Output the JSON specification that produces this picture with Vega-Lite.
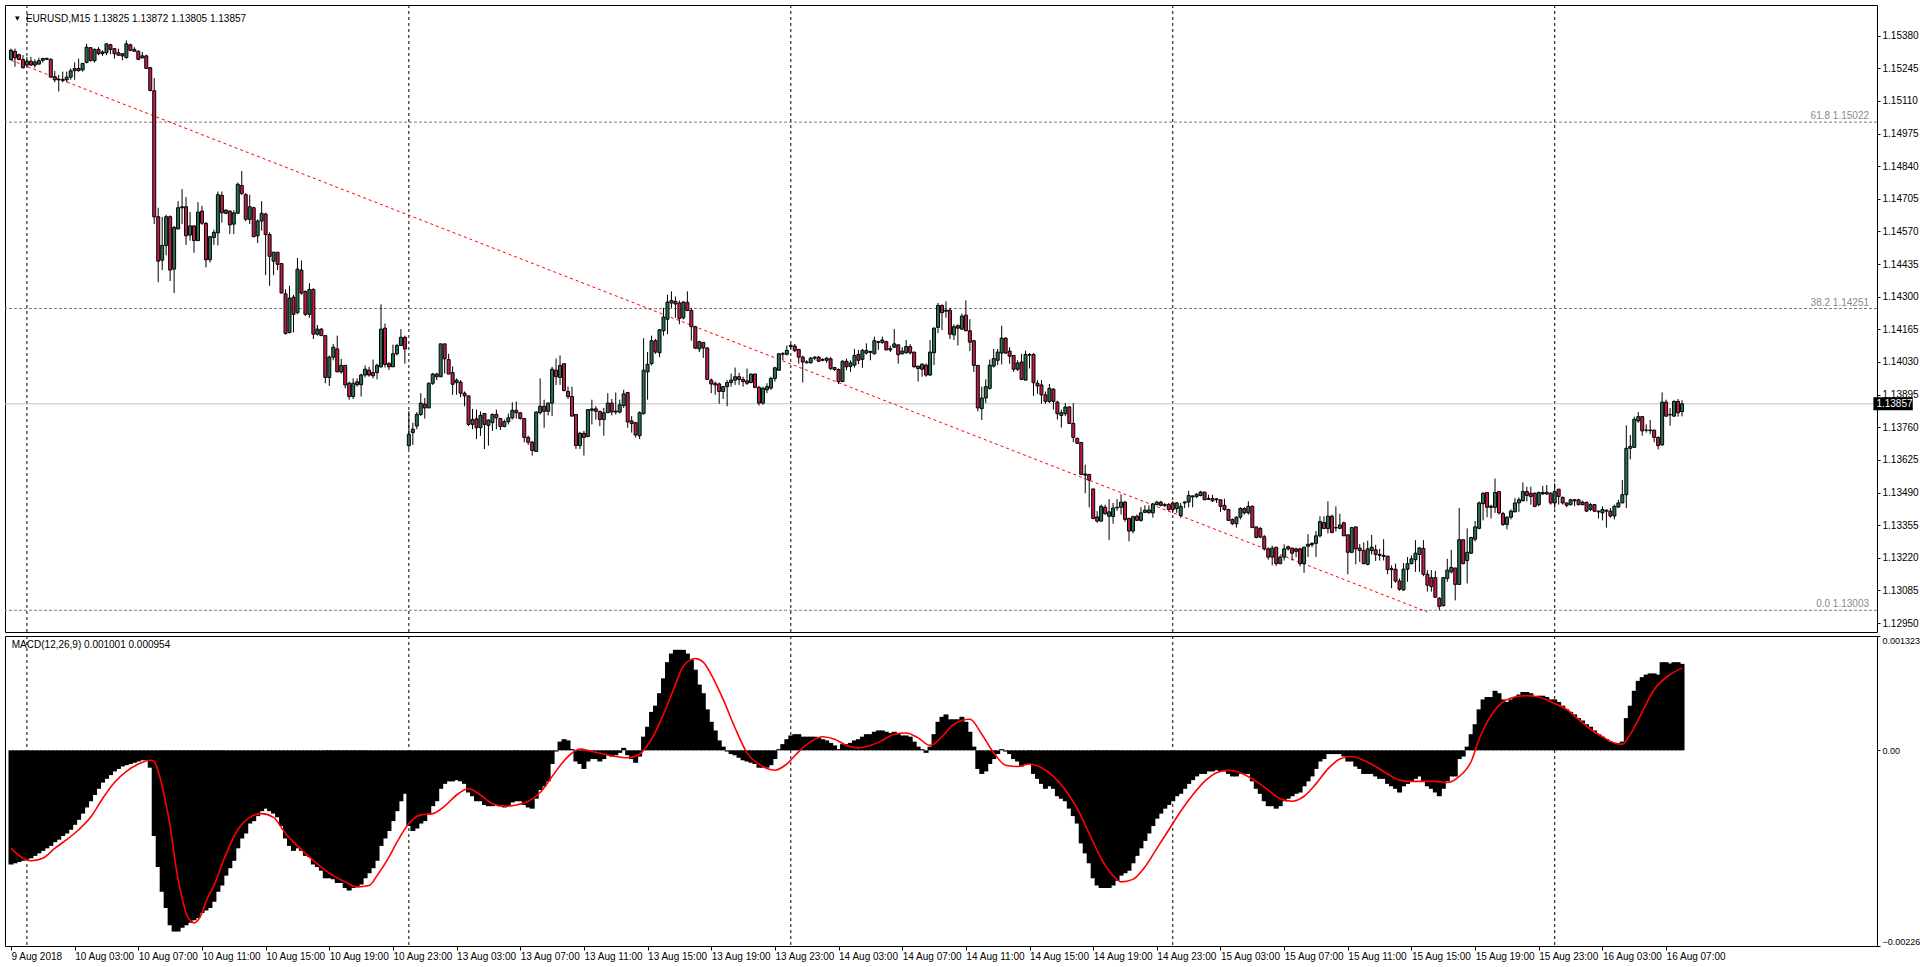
{
"$schema": "https://vega.github.io/schema/vega-lite/v6.json",
"background": "white",
"padding": {"left": 4, "top": 4, "right": 0, "bottom": 0},
"spacing": 2,
"config": {"view": {"stroke": "black", "strokeWidth": 1}, "font": "Liberation Sans",
 "axis": {"labelFont": "Liberation Sans", "labelFontSize": 10, "labelColor": "black", "tickColor": "black", "domain": false, "grid": false, "labelOverlap": false}},
"datasets": {
"days": [{"i":4},{"i":100},{"i":196},{"i":292},{"i":388}],
"fib": [{"p":1.15022,"label":"61.8 1.15022"},{"p":1.14251,"label":"38.2 1.14251"},{"p":1.13003,"label":"0.0 1.13003"}],
"bid": [{"p":1.13857,"label":"1.13857"}],
"trend": [{"i":0,"p":1.15278},{"i":356,"p":1.12996}],
"sig": [{"i":0,"s":-0.001134},{"i":5,"s":-0.001278},{"i":8,"s":-0.001249},{"i":11,"s":-0.001134},{"i":14,"s":-0.001034},{"i":17,"s":-0.000919},{"i":20,"s":-0.000775},{"i":23,"s":-0.00056},{"i":26,"s":-0.000373},{"i":29,"s":-0.000244},{"i":32,"s":-0.000158},{"i":35,"s":-0.000115},{"i":36,"s":-0.000129},{"i":37,"s":-0.000244},{"i":38,"s":-0.000416},{"i":39,"s":-0.000632},{"i":40,"s":-0.000876},{"i":41,"s":-0.001206},{"i":42,"s":-0.001493},{"i":43,"s":-0.001709},{"i":44,"s":-0.001881},{"i":45,"s":-0.001967},{"i":46,"s":-0.001996},{"i":47,"s":-0.001967},{"i":48,"s":-0.001881},{"i":49,"s":-0.001752},{"i":51,"s":-0.001565},{"i":54,"s":-0.001206},{"i":57,"s":-0.000919},{"i":60,"s":-0.000775},{"i":63,"s":-0.000732},{"i":66,"s":-0.000775},{"i":69,"s":-0.000962},{"i":72,"s":-0.001106},{"i":75,"s":-0.001235},{"i":78,"s":-0.00135},{"i":81,"s":-0.00145},{"i":84,"s":-0.001522},{"i":87,"s":-0.00158},{"i":90,"s":-0.001565},{"i":92,"s":-0.00145},{"i":95,"s":-0.001235},{"i":97,"s":-0.001063},{"i":100,"s":-0.000847},{"i":103,"s":-0.000747},{"i":106,"s":-0.000732},{"i":109,"s":-0.000646},{"i":112,"s":-0.000517},{"i":115,"s":-0.000445},{"i":118,"s":-0.000517},{"i":121,"s":-0.000617},{"i":124,"s":-0.000646},{"i":127,"s":-0.000632},{"i":130,"s":-0.000589},{"i":133,"s":-0.000488},{"i":136,"s":-0.000302},{"i":140,"s":-0.000072},{"i":143,"s":0.000014},{"i":146,"s":-0.000014},{"i":149,"s":-0.000043},{"i":152,"s":-0.000072},{"i":155,"s":-0.000086},{"i":158,"s":-0.000043},{"i":161,"s":0.000129},{"i":164,"s":0.000416},{"i":167,"s":0.000761},{"i":169,"s":0.000976},{"i":172,"s":0.001063},{"i":174,"s":0.00102},{"i":176,"s":0.000876},{"i":179,"s":0.000589},{"i":182,"s":0.000258},{"i":185,"s":-0.000029},{"i":189,"s":-0.000187},{"i":192,"s":-0.00023},{"i":195,"s":-0.000158},{"i":198,"s":-0.000014},{"i":201,"s":0.000101},{"i":204,"s":0.000158},{"i":207,"s":0.000129},{"i":210,"s":0.000057},{"i":213,"s":0.000029},{"i":216,"s":0.000057},{"i":219,"s":0.000115},{"i":222,"s":0.000187},{"i":225,"s":0.000201},{"i":228,"s":0.000144},{"i":231,"s":0.000057},{"i":234,"s":0.000158},{"i":237,"s":0.000302},{"i":241,"s":0.000359},{"i":244,"s":0.000187},{"i":247,"s":-0.000029},{"i":250,"s":-0.000172},{"i":253,"s":-0.000187},{"i":256,"s":-0.000158},{"i":259,"s":-0.000201},{"i":262,"s":-0.000302},{"i":265,"s":-0.00046},{"i":268,"s":-0.000675},{"i":271,"s":-0.000962},{"i":274,"s":-0.001249},{"i":277,"s":-0.00145},{"i":279,"s":-0.001522},{"i":282,"s":-0.001493},{"i":285,"s":-0.00135},{"i":288,"s":-0.001134},{"i":291,"s":-0.000919},{"i":294,"s":-0.000704},{"i":297,"s":-0.000517},{"i":300,"s":-0.000359},{"i":303,"s":-0.000258},{"i":306,"s":-0.00023},{"i":309,"s":-0.000258},{"i":312,"s":-0.00033},{"i":316,"s":-0.00046},{"i":319,"s":-0.00056},{"i":322,"s":-0.000589},{"i":325,"s":-0.000531},{"i":328,"s":-0.000388},{"i":331,"s":-0.000215},{"i":334,"s":-0.000101},{"i":337,"s":-0.000072},{"i":340,"s":-0.000115},{"i":343,"s":-0.000187},{"i":346,"s":-0.000273},{"i":349,"s":-0.000345},{"i":352,"s":-0.000359},{"i":355,"s":-0.000359},{"i":358,"s":-0.000359},{"i":361,"s":-0.000373},{"i":364,"s":-0.000302},{"i":367,"s":-0.000129},{"i":369,"s":0.000129},{"i":372,"s":0.000402},{"i":375,"s":0.00056},{"i":378,"s":0.000617},{"i":381,"s":0.000632},{"i":384,"s":0.000617},{"i":387,"s":0.00056},{"i":391,"s":0.000474},{"i":394,"s":0.000359},{"i":397,"s":0.000244},{"i":400,"s":0.000158},{"i":403,"s":0.000086},{"i":405,"s":0.000072},{"i":407,"s":0.000187},{"i":410,"s":0.000445},{"i":413,"s":0.000704},{"i":417,"s":0.000876},{"i":420,"s":0.000954}],
"bars": [
{"i":0,"o":1.15281,"h":1.15326,"l":1.15278,"c":1.15319,"m":-0.001321},
{"i":1,"o":1.15315,"h":1.15326,"l":1.15251,"c":1.15288,"m":-0.001307},
{"i":2,"o":1.15301,"h":1.15305,"l":1.15278,"c":1.15281,"m":-0.001292},
{"i":3,"o":1.15281,"h":1.15299,"l":1.15244,"c":1.15247,"m":-0.001278},
{"i":4,"o":1.15258,"h":1.15292,"l":1.15251,"c":1.15274,"m":-0.001264},
{"i":5,"o":1.15274,"h":1.15292,"l":1.15255,"c":1.15258,"m":-0.001249},
{"i":6,"o":1.15258,"h":1.15282,"l":1.15247,"c":1.15271,"m":-0.001221},
{"i":7,"o":1.15262,"h":1.15288,"l":1.15261,"c":1.15276,"m":-0.001192},
{"i":8,"o":1.15278,"h":1.15288,"l":1.15269,"c":1.15285,"m":-0.001163},
{"i":9,"o":1.15285,"h":1.15289,"l":1.1528,"c":1.15282,"m":-0.001134},
{"i":10,"o":1.15282,"h":1.15285,"l":1.15206,"c":1.15208,"m":-0.001106},
{"i":11,"o":1.1521,"h":1.15234,"l":1.15187,"c":1.15197,"m":-0.001063},
{"i":12,"o":1.15197,"h":1.15217,"l":1.15149,"c":1.15199,"m":-0.001034},
{"i":13,"o":1.15199,"h":1.15231,"l":1.15187,"c":1.15194,"m":-0.000991},
{"i":14,"o":1.15197,"h":1.15231,"l":1.15187,"c":1.15208,"m":-0.000962},
{"i":15,"o":1.15208,"h":1.15244,"l":1.15197,"c":1.15234,"m":-0.000919},
{"i":16,"o":1.15244,"h":1.15269,"l":1.15197,"c":1.15235,"m":-0.000862},
{"i":17,"o":1.15244,"h":1.15285,"l":1.15231,"c":1.15235,"m":-0.000804},
{"i":18,"o":1.15238,"h":1.15265,"l":1.15231,"c":1.15265,"m":-0.000732},
{"i":19,"o":1.15269,"h":1.15346,"l":1.15265,"c":1.15332,"m":-0.000661},
{"i":20,"o":1.1533,"h":1.15332,"l":1.15274,"c":1.15276,"m":-0.000589},
{"i":21,"o":1.15276,"h":1.15326,"l":1.15269,"c":1.15323,"m":-0.000517},
{"i":22,"o":1.15323,"h":1.15332,"l":1.15299,"c":1.15305,"m":-0.000445},
{"i":23,"o":1.15305,"h":1.15319,"l":1.15296,"c":1.15312,"m":-0.000373},
{"i":24,"o":1.15309,"h":1.15346,"l":1.15299,"c":1.15346,"m":-0.00033},
{"i":25,"o":1.15342,"h":1.15346,"l":1.15303,"c":1.15323,"m":-0.000287},
{"i":26,"o":1.15326,"h":1.15326,"l":1.15285,"c":1.15305,"m":-0.000244},
{"i":27,"o":1.15309,"h":1.15326,"l":1.15296,"c":1.15299,"m":-0.000215},
{"i":28,"o":1.15305,"h":1.15305,"l":1.15278,"c":1.15296,"m":-0.000187},
{"i":29,"o":1.15289,"h":1.1536,"l":1.15285,"c":1.15346,"m":-0.000172},
{"i":30,"o":1.15342,"h":1.15346,"l":1.15315,"c":1.15319,"m":-0.000158},
{"i":31,"o":1.15323,"h":1.15332,"l":1.15312,"c":1.15315,"m":-0.000144},
{"i":32,"o":1.15315,"h":1.15319,"l":1.15278,"c":1.15282,"m":-0.000129},
{"i":33,"o":1.15288,"h":1.15312,"l":1.15285,"c":1.15296,"m":-0.000115},
{"i":34,"o":1.15296,"h":1.15301,"l":1.15244,"c":1.15244,"m":-0.000115},
{"i":35,"o":1.15247,"h":1.15251,"l":1.15149,"c":1.15153,"m":-0.000201},
{"i":36,"o":1.15152,"h":1.15204,"l":1.146,"c":1.1463,"m":-0.000991},
{"i":37,"o":1.14631,"h":1.14668,"l":1.1436,"c":1.14447,"m":-0.00135},
{"i":38,"o":1.14451,"h":1.1463,"l":1.1441,"c":1.14512,"m":-0.001637},
{"i":39,"o":1.14512,"h":1.14639,"l":1.14471,"c":1.14631,"m":-0.001824},
{"i":40,"o":1.14631,"h":1.14636,"l":1.14365,"c":1.1441,"m":-0.002025},
{"i":41,"o":1.14414,"h":1.14593,"l":1.14315,"c":1.14586,"m":-0.002097},
{"i":42,"o":1.1458,"h":1.14695,"l":1.1458,"c":1.14668,"m":-0.002097},
{"i":43,"o":1.14668,"h":1.14745,"l":1.146,"c":1.14672,"m":-0.002053},
{"i":44,"o":1.14672,"h":1.14712,"l":1.14514,"c":1.14552,"m":-0.002025},
{"i":45,"o":1.14555,"h":1.1465,"l":1.14532,"c":1.14593,"m":-0.001996},
{"i":46,"o":1.14593,"h":1.14593,"l":1.14482,"c":1.14532,"m":-0.001967},
{"i":47,"o":1.14532,"h":1.14691,"l":1.14532,"c":1.1465,"m":-0.001939},
{"i":48,"o":1.14654,"h":1.14676,"l":1.14597,"c":1.14604,"m":-0.001881},
{"i":49,"o":1.14603,"h":1.14609,"l":1.14421,"c":1.14453,"m":-0.001852},
{"i":50,"o":1.14453,"h":1.14552,"l":1.14441,"c":1.14548,"m":-0.001824},
{"i":51,"o":1.14545,"h":1.14577,"l":1.14514,"c":1.14566,"m":-0.001752},
{"i":52,"o":1.14564,"h":1.14735,"l":1.14512,"c":1.14722,"m":-0.001637},
{"i":53,"o":1.14719,"h":1.14735,"l":1.14607,"c":1.14647,"m":-0.001565},
{"i":54,"o":1.14645,"h":1.14661,"l":1.14641,"c":1.14658,"m":-0.00145},
{"i":55,"o":1.14654,"h":1.14657,"l":1.14559,"c":1.14597,"m":-0.001364},
{"i":56,"o":1.146,"h":1.14657,"l":1.14559,"c":1.14647,"m":-0.001278},
{"i":57,"o":1.14645,"h":1.14772,"l":1.14645,"c":1.14765,"m":-0.001134},
{"i":58,"o":1.1476,"h":1.1482,"l":1.14722,"c":1.14726,"m":-0.00102},
{"i":59,"o":1.14722,"h":1.14729,"l":1.14612,"c":1.1462,"m":-0.000962},
{"i":60,"o":1.1462,"h":1.14722,"l":1.14601,"c":1.14672,"m":-0.000847},
{"i":61,"o":1.14668,"h":1.14672,"l":1.14548,"c":1.14548,"m":-0.000819},
{"i":62,"o":1.14552,"h":1.1462,"l":1.14522,"c":1.14613,"m":-0.000761},
{"i":63,"o":1.14613,"h":1.14695,"l":1.14573,"c":1.14645,"m":-0.000704},
{"i":64,"o":1.14642,"h":1.14647,"l":1.14389,"c":1.14557,"m":-0.000675},
{"i":65,"o":1.14557,"h":1.14566,"l":1.14345,"c":1.14467,"m":-0.000704},
{"i":66,"o":1.14447,"h":1.14484,"l":1.14389,"c":1.14484,"m":-0.000732},
{"i":67,"o":1.14484,"h":1.14484,"l":1.1441,"c":1.14434,"m":-0.000775},
{"i":68,"o":1.14437,"h":1.14437,"l":1.14315,"c":1.14315,"m":-0.000876},
{"i":69,"o":1.14312,"h":1.14331,"l":1.14143,"c":1.14148,"m":-0.00102},
{"i":70,"o":1.14152,"h":1.14345,"l":1.14148,"c":1.14294,"m":-0.001106},
{"i":71,"o":1.14298,"h":1.14308,"l":1.14152,"c":1.14227,"m":-0.001163},
{"i":72,"o":1.14234,"h":1.1446,"l":1.14227,"c":1.14414,"m":-0.001134},
{"i":73,"o":1.1441,"h":1.1445,"l":1.14308,"c":1.14315,"m":-0.001163},
{"i":74,"o":1.14322,"h":1.14325,"l":1.1422,"c":1.14227,"m":-0.001221},
{"i":75,"o":1.14227,"h":1.14356,"l":1.14213,"c":1.1433,"m":-0.001235},
{"i":76,"o":1.1433,"h":1.14335,"l":1.14125,"c":1.14145,"m":-0.001321},
{"i":77,"o":1.14145,"h":1.14183,"l":1.14139,"c":1.14166,"m":-0.00135},
{"i":78,"o":1.14166,"h":1.1417,"l":1.14139,"c":1.14139,"m":-0.001393},
{"i":79,"o":1.14139,"h":1.14139,"l":1.13942,"c":1.13966,"m":-0.001479},
{"i":80,"o":1.13966,"h":1.14057,"l":1.13931,"c":1.1405,"m":-0.001479},
{"i":81,"o":1.1405,"h":1.14105,"l":1.14037,"c":1.14091,"m":-0.001493},
{"i":82,"o":1.14084,"h":1.14139,"l":1.13989,"c":1.13989,"m":-0.001536},
{"i":83,"o":1.13989,"h":1.14043,"l":1.13982,"c":1.14016,"m":-0.001536},
{"i":84,"o":1.14016,"h":1.14016,"l":1.13921,"c":1.13935,"m":-0.001594},
{"i":85,"o":1.13942,"h":1.13949,"l":1.13874,"c":1.13887,"m":-0.001623},
{"i":86,"o":1.13887,"h":1.13962,"l":1.13877,"c":1.13942,"m":-0.001594},
{"i":87,"o":1.13948,"h":1.13962,"l":1.13928,"c":1.13936,"m":-0.00158},
{"i":88,"o":1.13936,"h":1.13982,"l":1.13887,"c":1.13976,"m":-0.001551},
{"i":89,"o":1.13976,"h":1.14016,"l":1.13966,"c":1.14,"m":-0.001479},
{"i":90,"o":1.13996,"h":1.1401,"l":1.13969,"c":1.13976,"m":-0.001422},
{"i":91,"o":1.13986,"h":1.1404,"l":1.13962,"c":1.13973,"m":-0.001364},
{"i":92,"o":1.13986,"h":1.14023,"l":1.13958,"c":1.14016,"m":-0.001278},
{"i":93,"o":1.1401,"h":1.14268,"l":1.14007,"c":1.14166,"m":-0.001106},
{"i":94,"o":1.1417,"h":1.14189,"l":1.14007,"c":1.1402,"m":-0.00102},
{"i":95,"o":1.14023,"h":1.1403,"l":1.13996,"c":1.1401,"m":-0.000933},
{"i":96,"o":1.1401,"h":1.14102,"l":1.1401,"c":1.14064,"m":-0.000819},
{"i":97,"o":1.14064,"h":1.14105,"l":1.14057,"c":1.14098,"m":-0.000704},
{"i":98,"o":1.14098,"h":1.14166,"l":1.14098,"c":1.14132,"m":-0.000589},
{"i":99,"o":1.14132,"h":1.14139,"l":1.14023,"c":1.14084,"m":-0.000503},
{"i":100,"o":1.13684,"h":1.13827,"l":1.1367,"c":1.13731,"m":-0.000876},
{"i":101,"o":1.13738,"h":1.13779,"l":1.13687,"c":1.13752,"m":-0.000933},
{"i":102,"o":1.13765,"h":1.13823,"l":1.13752,"c":1.13813,"m":-0.000905},
{"i":103,"o":1.13813,"h":1.13901,"l":1.13806,"c":1.1386,"m":-0.000847},
{"i":104,"o":1.13856,"h":1.13881,"l":1.13796,"c":1.1384,"m":-0.000819},
{"i":105,"o":1.1384,"h":1.13945,"l":1.1384,"c":1.13942,"m":-0.000732},
{"i":106,"o":1.13942,"h":1.13985,"l":1.13935,"c":1.1398,"m":-0.000646},
{"i":107,"o":1.1398,"h":1.13985,"l":1.13955,"c":1.13969,"m":-0.000589},
{"i":108,"o":1.13969,"h":1.14105,"l":1.13969,"c":1.14105,"m":-0.000445},
{"i":109,"o":1.14105,"h":1.14105,"l":1.13982,"c":1.14043,"m":-0.000388},
{"i":110,"o":1.1404,"h":1.14064,"l":1.1398,"c":1.1398,"m":-0.000359},
{"i":111,"o":1.13986,"h":1.14012,"l":1.13894,"c":1.13938,"m":-0.000359},
{"i":112,"o":1.13945,"h":1.13962,"l":1.13894,"c":1.13955,"m":-0.000345},
{"i":113,"o":1.13947,"h":1.13955,"l":1.13884,"c":1.13901,"m":-0.000359},
{"i":114,"o":1.13901,"h":1.13908,"l":1.13847,"c":1.1389,"m":-0.000388},
{"i":115,"o":1.1389,"h":1.1389,"l":1.13765,"c":1.13772,"m":-0.000488},
{"i":116,"o":1.13772,"h":1.13836,"l":1.13752,"c":1.13792,"m":-0.000531},
{"i":117,"o":1.13795,"h":1.13833,"l":1.13711,"c":1.13758,"m":-0.000589},
{"i":118,"o":1.13758,"h":1.13826,"l":1.13725,"c":1.13809,"m":-0.000589},
{"i":119,"o":1.13817,"h":1.13817,"l":1.1367,"c":1.13772,"m":-0.000632},
{"i":120,"o":1.13768,"h":1.13792,"l":1.13684,"c":1.1379,"m":-0.000646},
{"i":121,"o":1.13779,"h":1.13817,"l":1.13745,"c":1.13813,"m":-0.000646},
{"i":122,"o":1.13813,"h":1.13833,"l":1.13752,"c":1.13799,"m":-0.000632},
{"i":123,"o":1.13796,"h":1.13799,"l":1.13749,"c":1.13763,"m":-0.000646},
{"i":124,"o":1.13763,"h":1.13792,"l":1.1376,"c":1.13783,"m":-0.000661},
{"i":125,"o":1.13783,"h":1.13817,"l":1.13772,"c":1.13799,"m":-0.000646},
{"i":126,"o":1.13799,"h":1.13863,"l":1.13792,"c":1.1383,"m":-0.000603},
{"i":127,"o":1.1383,"h":1.13867,"l":1.13796,"c":1.1382,"m":-0.000589},
{"i":128,"o":1.1382,"h":1.1382,"l":1.13792,"c":1.13796,"m":-0.000589},
{"i":129,"o":1.13796,"h":1.13796,"l":1.13698,"c":1.13718,"m":-0.000632},
{"i":130,"o":1.13718,"h":1.13725,"l":1.13687,"c":1.13698,"m":-0.000661},
{"i":131,"o":1.13698,"h":1.13704,"l":1.13643,"c":1.13664,"m":-0.000675},
{"i":132,"o":1.1366,"h":1.13826,"l":1.1366,"c":1.13823,"m":-0.00056},
{"i":133,"o":1.1382,"h":1.13962,"l":1.13813,"c":1.13847,"m":-0.00046},
{"i":134,"o":1.13847,"h":1.13874,"l":1.13758,"c":1.13826,"m":-0.000416},
{"i":135,"o":1.13826,"h":1.13863,"l":1.13809,"c":1.1386,"m":-0.000359},
{"i":136,"o":1.1386,"h":1.1401,"l":1.13806,"c":1.14,"m":-0.000158},
{"i":137,"o":1.13996,"h":1.14044,"l":1.13935,"c":1.13969,"m":-0.000014},
{"i":138,"o":1.13966,"h":1.14057,"l":1.13935,"c":1.14016,"m":0.000101},
{"i":139,"o":1.14023,"h":1.14023,"l":1.13908,"c":1.13912,"m":0.000129},
{"i":140,"o":1.13908,"h":1.13928,"l":1.13877,"c":1.13887,"m":0.000115},
{"i":141,"o":1.13887,"h":1.13928,"l":1.13806,"c":1.13806,"m":0.000014},
{"i":142,"o":1.13813,"h":1.13813,"l":1.1367,"c":1.13684,"m":-0.000129},
{"i":143,"o":1.13684,"h":1.13741,"l":1.1367,"c":1.13735,"m":-0.000158},
{"i":144,"o":1.13735,"h":1.13745,"l":1.13643,"c":1.13718,"m":-0.000215},
{"i":145,"o":1.13722,"h":1.13833,"l":1.13718,"c":1.13833,"m":-0.000129},
{"i":146,"o":1.1383,"h":1.13874,"l":1.13772,"c":1.13836,"m":-0.000101},
{"i":147,"o":1.13836,"h":1.13847,"l":1.13792,"c":1.13826,"m":-0.000101},
{"i":148,"o":1.13826,"h":1.13826,"l":1.13765,"c":1.13792,"m":-0.000129},
{"i":149,"o":1.13792,"h":1.1384,"l":1.13725,"c":1.1382,"m":-0.000101},
{"i":150,"o":1.1382,"h":1.13901,"l":1.1382,"c":1.1386,"m":-0.000057},
{"i":151,"o":1.1386,"h":1.13877,"l":1.13809,"c":1.13823,"m":-0.000072},
{"i":152,"o":1.13823,"h":1.13904,"l":1.13813,"c":1.13827,"m":-0.000057},
{"i":153,"o":1.13823,"h":1.13874,"l":1.13817,"c":1.13853,"m":-0.000029},
{"i":154,"o":1.1385,"h":1.13915,"l":1.1384,"c":1.13898,"m":0.000029},
{"i":155,"o":1.13904,"h":1.13904,"l":1.13758,"c":1.13782,"m":-0.000057},
{"i":156,"o":1.13786,"h":1.13806,"l":1.13738,"c":1.13775,"m":-0.000101},
{"i":157,"o":1.13779,"h":1.13782,"l":1.13718,"c":1.13728,"m":-0.000144},
{"i":158,"o":1.13725,"h":1.13826,"l":1.13711,"c":1.1382,"m":-0.000072},
{"i":159,"o":1.13816,"h":1.14128,"l":1.13813,"c":1.13996,"m":0.000158},
{"i":160,"o":1.13989,"h":1.14071,"l":1.13874,"c":1.1402,"m":0.000273},
{"i":161,"o":1.14023,"h":1.14139,"l":1.14016,"c":1.14118,"m":0.000445},
{"i":162,"o":1.14118,"h":1.14125,"l":1.14064,"c":1.14071,"m":0.000517},
{"i":163,"o":1.14068,"h":1.14166,"l":1.1405,"c":1.14163,"m":0.000661},
{"i":164,"o":1.14159,"h":1.14254,"l":1.14139,"c":1.14216,"m":0.000833},
{"i":165,"o":1.14207,"h":1.14308,"l":1.14145,"c":1.14278,"m":0.00102},
{"i":166,"o":1.14274,"h":1.14322,"l":1.14254,"c":1.14284,"m":0.00112},
{"i":167,"o":1.14281,"h":1.14301,"l":1.14213,"c":1.1427,"m":0.001163},
{"i":168,"o":1.14274,"h":1.14284,"l":1.14186,"c":1.1421,"m":0.001163},
{"i":169,"o":1.14213,"h":1.14281,"l":1.14206,"c":1.14278,"m":0.001163},
{"i":170,"o":1.14277,"h":1.14322,"l":1.1424,"c":1.14243,"m":0.00112},
{"i":171,"o":1.14243,"h":1.14254,"l":1.14118,"c":1.14176,"m":0.001048},
{"i":172,"o":1.14176,"h":1.14179,"l":1.14084,"c":1.14087,"m":0.000933},
{"i":173,"o":1.14084,"h":1.14118,"l":1.14071,"c":1.14114,"m":0.000761},
{"i":174,"o":1.14111,"h":1.14111,"l":1.14047,"c":1.14088,"m":0.000661},
{"i":175,"o":1.14088,"h":1.14091,"l":1.13958,"c":1.13958,"m":0.000474},
{"i":176,"o":1.13955,"h":1.13962,"l":1.13901,"c":1.13939,"m":0.00033},
{"i":177,"o":1.13942,"h":1.13949,"l":1.13894,"c":1.13935,"m":0.00023},
{"i":178,"o":1.13939,"h":1.13945,"l":1.13857,"c":1.13908,"m":0.000115},
{"i":179,"o":1.13908,"h":1.13931,"l":1.13877,"c":1.13928,"m":0.000043},
{"i":180,"o":1.13928,"h":1.13955,"l":1.13847,"c":1.13945,"m":-0.000014},
{"i":181,"o":1.13945,"h":1.13982,"l":1.13928,"c":1.13955,"m":-0.000043},
{"i":182,"o":1.13955,"h":1.14007,"l":1.13935,"c":1.13969,"m":-0.000057},
{"i":183,"o":1.13969,"h":1.13985,"l":1.13935,"c":1.13958,"m":-0.000086},
{"i":184,"o":1.13958,"h":1.13969,"l":1.13928,"c":1.13949,"m":-0.000115},
{"i":185,"o":1.13952,"h":1.14003,"l":1.13935,"c":1.13942,"m":-0.000129},
{"i":186,"o":1.13945,"h":1.13982,"l":1.13942,"c":1.1398,"m":-0.000144},
{"i":187,"o":1.1398,"h":1.13982,"l":1.13921,"c":1.13925,"m":-0.000158},
{"i":188,"o":1.13925,"h":1.13931,"l":1.1385,"c":1.1386,"m":-0.000201},
{"i":189,"o":1.1386,"h":1.13928,"l":1.13853,"c":1.13921,"m":-0.000201},
{"i":190,"o":1.13915,"h":1.13942,"l":1.13901,"c":1.13928,"m":-0.000201},
{"i":191,"o":1.13922,"h":1.13969,"l":1.13915,"c":1.13962,"m":-0.000172},
{"i":192,"o":1.13962,"h":1.1401,"l":1.13949,"c":1.14006,"m":-0.000101},
{"i":193,"o":1.13996,"h":1.14064,"l":1.13993,"c":1.14064,"m":0.000014},
{"i":194,"o":1.14064,"h":1.14071,"l":1.14037,"c":1.14062,"m":0.000072},
{"i":195,"o":1.14062,"h":1.14098,"l":1.14057,"c":1.14078,"m":0.000129},
{"i":196,"o":1.14094,"h":1.14105,"l":1.14084,"c":1.14099,"m":0.000172},
{"i":197,"o":1.14096,"h":1.14105,"l":1.14071,"c":1.14077,"m":0.000187},
{"i":198,"o":1.14082,"h":1.14084,"l":1.14023,"c":1.1405,"m":0.000187},
{"i":199,"o":1.1405,"h":1.14057,"l":1.13945,"c":1.1403,"m":0.000158},
{"i":200,"o":1.1403,"h":1.14037,"l":1.14023,"c":1.14027,"m":0.000158},
{"i":201,"o":1.14027,"h":1.1405,"l":1.14023,"c":1.14046,"m":0.000158},
{"i":202,"o":1.14046,"h":1.14054,"l":1.14037,"c":1.1405,"m":0.000158},
{"i":203,"o":1.1405,"h":1.14054,"l":1.1403,"c":1.14033,"m":0.000144},
{"i":204,"o":1.14037,"h":1.14046,"l":1.14033,"c":1.1404,"m":0.000129},
{"i":205,"o":1.14037,"h":1.1405,"l":1.14027,"c":1.14046,"m":0.000115},
{"i":206,"o":1.14043,"h":1.1405,"l":1.13996,"c":1.14003,"m":0.000086},
{"i":207,"o":1.14007,"h":1.1401,"l":1.13993,"c":1.13999,"m":0.000057},
{"i":208,"o":1.13999,"h":1.14003,"l":1.13939,"c":1.13949,"m":0.000014},
{"i":209,"o":1.13949,"h":1.14037,"l":1.13949,"c":1.14033,"m":0.000072},
{"i":210,"o":1.14033,"h":1.14044,"l":1.13996,"c":1.1401,"m":0.000072},
{"i":211,"o":1.14012,"h":1.14037,"l":1.13989,"c":1.14026,"m":0.000086},
{"i":212,"o":1.14017,"h":1.14084,"l":1.14007,"c":1.14057,"m":0.000115},
{"i":213,"o":1.14061,"h":1.1408,"l":1.14021,"c":1.14037,"m":0.000129},
{"i":214,"o":1.14041,"h":1.14084,"l":1.14006,"c":1.14078,"m":0.000158},
{"i":215,"o":1.14067,"h":1.14107,"l":1.14061,"c":1.14078,"m":0.000187},
{"i":216,"o":1.14074,"h":1.14075,"l":1.14037,"c":1.1407,"m":0.000187},
{"i":217,"o":1.14064,"h":1.14135,"l":1.14061,"c":1.14118,"m":0.000215},
{"i":218,"o":1.14114,"h":1.14118,"l":1.1408,"c":1.14111,"m":0.00023},
{"i":219,"o":1.14111,"h":1.14135,"l":1.14105,"c":1.14121,"m":0.00023},
{"i":220,"o":1.14114,"h":1.14118,"l":1.14078,"c":1.1408,"m":0.000215},
{"i":221,"o":1.14085,"h":1.14098,"l":1.14071,"c":1.1408,"m":0.000201},
{"i":222,"o":1.14091,"h":1.14166,"l":1.14088,"c":1.14105,"m":0.000215},
{"i":223,"o":1.14101,"h":1.14101,"l":1.14023,"c":1.1406,"m":0.000187},
{"i":224,"o":1.14064,"h":1.14091,"l":1.14061,"c":1.14075,"m":0.000172},
{"i":225,"o":1.14068,"h":1.14121,"l":1.14064,"c":1.14094,"m":0.000172},
{"i":226,"o":1.14094,"h":1.14104,"l":1.14061,"c":1.14068,"m":0.000158},
{"i":227,"o":1.14071,"h":1.14071,"l":1.14007,"c":1.1401,"m":0.000101},
{"i":228,"o":1.14013,"h":1.14013,"l":1.13949,"c":1.14003,"m":0.000043},
{"i":229,"o":1.14,"h":1.14024,"l":1.13969,"c":1.14021,"m":0.000014},
{"i":230,"o":1.14017,"h":1.14024,"l":1.13969,"c":1.13976,"m":-0.000029},
{"i":231,"o":1.13976,"h":1.14121,"l":1.13973,"c":1.14071,"m":0.000043},
{"i":232,"o":1.14068,"h":1.14173,"l":1.14017,"c":1.1417,"m":0.000187},
{"i":233,"o":1.14173,"h":1.14274,"l":1.14149,"c":1.14264,"m":0.00033},
{"i":234,"o":1.14264,"h":1.14268,"l":1.14162,"c":1.14234,"m":0.000388},
{"i":235,"o":1.1424,"h":1.14281,"l":1.14213,"c":1.14244,"m":0.000416},
{"i":236,"o":1.14244,"h":1.14254,"l":1.14125,"c":1.14145,"m":0.000359},
{"i":237,"o":1.14142,"h":1.14186,"l":1.14121,"c":1.14176,"m":0.000359},
{"i":238,"o":1.1418,"h":1.14186,"l":1.14098,"c":1.1417,"m":0.000359},
{"i":239,"o":1.14166,"h":1.1423,"l":1.14162,"c":1.1422,"m":0.000388},
{"i":240,"o":1.14224,"h":1.14285,"l":1.14159,"c":1.14159,"m":0.00033},
{"i":241,"o":1.14159,"h":1.14207,"l":1.14075,"c":1.14112,"m":0.000215},
{"i":242,"o":1.14118,"h":1.14121,"l":1.13989,"c":1.14016,"m":0.000043},
{"i":243,"o":1.14016,"h":1.14016,"l":1.13826,"c":1.1384,"m":-0.000215},
{"i":244,"o":1.13837,"h":1.13928,"l":1.1379,"c":1.13881,"m":-0.000273},
{"i":245,"o":1.13881,"h":1.13958,"l":1.1386,"c":1.13928,"m":-0.000244},
{"i":246,"o":1.13921,"h":1.1404,"l":1.13915,"c":1.14017,"m":-0.000158},
{"i":247,"o":1.14013,"h":1.14084,"l":1.14007,"c":1.14044,"m":-0.000101},
{"i":248,"o":1.14037,"h":1.14084,"l":1.14017,"c":1.14071,"m":-0.000043},
{"i":249,"o":1.14067,"h":1.1418,"l":1.1402,"c":1.14129,"m":0.000014},
{"i":250,"o":1.14129,"h":1.14132,"l":1.14064,"c":1.14067,"m":-0.000014},
{"i":251,"o":1.14075,"h":1.14091,"l":1.14023,"c":1.14054,"m":-0.000043},
{"i":252,"o":1.14057,"h":1.14057,"l":1.13989,"c":1.14,"m":-0.000101},
{"i":253,"o":1.14,"h":1.14037,"l":1.13993,"c":1.14026,"m":-0.000129},
{"i":254,"o":1.1403,"h":1.14064,"l":1.13955,"c":1.13958,"m":-0.000187},
{"i":255,"o":1.13955,"h":1.14077,"l":1.13955,"c":1.14061,"m":-0.000158},
{"i":256,"o":1.14061,"h":1.14067,"l":1.14003,"c":1.14058,"m":-0.000158},
{"i":257,"o":1.14061,"h":1.14067,"l":1.1389,"c":1.13944,"m":-0.000273},
{"i":258,"o":1.13942,"h":1.13955,"l":1.13898,"c":1.13931,"m":-0.00033},
{"i":259,"o":1.13935,"h":1.13955,"l":1.13857,"c":1.13894,"m":-0.000388},
{"i":260,"o":1.13894,"h":1.13908,"l":1.13857,"c":1.13867,"m":-0.000445},
{"i":261,"o":1.13867,"h":1.13939,"l":1.1386,"c":1.13921,"m":-0.000416},
{"i":262,"o":1.13918,"h":1.13921,"l":1.13833,"c":1.13867,"m":-0.000445},
{"i":263,"o":1.13864,"h":1.1387,"l":1.13792,"c":1.13816,"m":-0.000531},
{"i":264,"o":1.13809,"h":1.13833,"l":1.13759,"c":1.1382,"m":-0.00056},
{"i":265,"o":1.13816,"h":1.1386,"l":1.13806,"c":1.13844,"m":-0.000589},
{"i":266,"o":1.13844,"h":1.13847,"l":1.13776,"c":1.13776,"m":-0.000675},
{"i":267,"o":1.13776,"h":1.1386,"l":1.13698,"c":1.13718,"m":-0.000761},
{"i":268,"o":1.13714,"h":1.13718,"l":1.13691,"c":1.13694,"m":-0.000847},
{"i":269,"o":1.13697,"h":1.13697,"l":1.13565,"c":1.13565,"m":-0.001077},
{"i":270,"o":1.13567,"h":1.13605,"l":1.13487,"c":1.13562,"m":-0.001192},
{"i":271,"o":1.13565,"h":1.13565,"l":1.13429,"c":1.13541,"m":-0.001307},
{"i":272,"o":1.13505,"h":1.13505,"l":1.13379,"c":1.13383,"m":-0.001479},
{"i":273,"o":1.13389,"h":1.13413,"l":1.13365,"c":1.13372,"m":-0.001565},
{"i":274,"o":1.13372,"h":1.1344,"l":1.13369,"c":1.13433,"m":-0.001594},
{"i":275,"o":1.13429,"h":1.1344,"l":1.13399,"c":1.13402,"m":-0.001594},
{"i":276,"o":1.13392,"h":1.13463,"l":1.13293,"c":1.1341,"m":-0.001594},
{"i":277,"o":1.13391,"h":1.13447,"l":1.13361,"c":1.13426,"m":-0.001565},
{"i":278,"o":1.13427,"h":1.13463,"l":1.13415,"c":1.13429,"m":-0.001508},
{"i":279,"o":1.13429,"h":1.13483,"l":1.13399,"c":1.1345,"m":-0.00145},
{"i":280,"o":1.1345,"h":1.13456,"l":1.13369,"c":1.13379,"m":-0.001422},
{"i":281,"o":1.13383,"h":1.13386,"l":1.13288,"c":1.13331,"m":-0.001393},
{"i":282,"o":1.13331,"h":1.13395,"l":1.13321,"c":1.1339,"m":-0.001307},
{"i":283,"o":1.13392,"h":1.13399,"l":1.13372,"c":1.13375,"m":-0.001221},
{"i":284,"o":1.13375,"h":1.13429,"l":1.13369,"c":1.13406,"m":-0.001134},
{"i":285,"o":1.13408,"h":1.13437,"l":1.13405,"c":1.13417,"m":-0.001048},
{"i":286,"o":1.13407,"h":1.13437,"l":1.13402,"c":1.13418,"m":-0.000962},
{"i":287,"o":1.13406,"h":1.13447,"l":1.13386,"c":1.13443,"m":-0.000876},
{"i":288,"o":1.1344,"h":1.13456,"l":1.13437,"c":1.1345,"m":-0.00079},
{"i":289,"o":1.1345,"h":1.13456,"l":1.13433,"c":1.13437,"m":-0.000732},
{"i":290,"o":1.1344,"h":1.13447,"l":1.13429,"c":1.13437,"m":-0.000675},
{"i":291,"o":1.1344,"h":1.13447,"l":1.13413,"c":1.1342,"m":-0.000632},
{"i":292,"o":1.13447,"h":1.13454,"l":1.13406,"c":1.1342,"m":-0.000589},
{"i":293,"o":1.13424,"h":1.13451,"l":1.13406,"c":1.13447,"m":-0.000531},
{"i":294,"o":1.13395,"h":1.13447,"l":1.13386,"c":1.13433,"m":-0.000503},
{"i":295,"o":1.13447,"h":1.13454,"l":1.13426,"c":1.13451,"m":-0.000445},
{"i":296,"o":1.13451,"h":1.13497,"l":1.13429,"c":1.13478,"m":-0.000388},
{"i":297,"o":1.13476,"h":1.13478,"l":1.13429,"c":1.13472,"m":-0.000345},
{"i":298,"o":1.13474,"h":1.13487,"l":1.13467,"c":1.13483,"m":-0.000302},
{"i":299,"o":1.13478,"h":1.13497,"l":1.13474,"c":1.13492,"m":-0.000273},
{"i":300,"o":1.13492,"h":1.13492,"l":1.1346,"c":1.1346,"m":-0.000273},
{"i":301,"o":1.13465,"h":1.13481,"l":1.1346,"c":1.13462,"m":-0.000244},
{"i":302,"o":1.13465,"h":1.13481,"l":1.13451,"c":1.13456,"m":-0.000244},
{"i":303,"o":1.1346,"h":1.13467,"l":1.13447,"c":1.13464,"m":-0.00023},
{"i":304,"o":1.1346,"h":1.1346,"l":1.1341,"c":1.13433,"m":-0.000244},
{"i":305,"o":1.13437,"h":1.13464,"l":1.13415,"c":1.1342,"m":-0.000244},
{"i":306,"o":1.1342,"h":1.1342,"l":1.13372,"c":1.13375,"m":-0.000273},
{"i":307,"o":1.13378,"h":1.13383,"l":1.13356,"c":1.13361,"m":-0.000302},
{"i":308,"o":1.13361,"h":1.13392,"l":1.13345,"c":1.13388,"m":-0.000302},
{"i":309,"o":1.13388,"h":1.13429,"l":1.13379,"c":1.13424,"m":-0.000273},
{"i":310,"o":1.13424,"h":1.13429,"l":1.13399,"c":1.13406,"m":-0.000273},
{"i":311,"o":1.13406,"h":1.13454,"l":1.13399,"c":1.13433,"m":-0.000273},
{"i":312,"o":1.13433,"h":1.13437,"l":1.13345,"c":1.13345,"m":-0.000359},
{"i":313,"o":1.13348,"h":1.13348,"l":1.13301,"c":1.13304,"m":-0.000445},
{"i":314,"o":1.13341,"h":1.13348,"l":1.13301,"c":1.13306,"m":-0.000503},
{"i":315,"o":1.13307,"h":1.13315,"l":1.1325,"c":1.13257,"m":-0.000589},
{"i":316,"o":1.13257,"h":1.13264,"l":1.13212,"c":1.13223,"m":-0.000646},
{"i":317,"o":1.13223,"h":1.1327,"l":1.13189,"c":1.1326,"m":-0.000646},
{"i":318,"o":1.13264,"h":1.13264,"l":1.13186,"c":1.13196,"m":-0.000675},
{"i":319,"o":1.13196,"h":1.1323,"l":1.13193,"c":1.13223,"m":-0.000646},
{"i":320,"o":1.13223,"h":1.13276,"l":1.13209,"c":1.13257,"m":-0.000589},
{"i":321,"o":1.13266,"h":1.1327,"l":1.1325,"c":1.13257,"m":-0.00056},
{"i":322,"o":1.1326,"h":1.13262,"l":1.13209,"c":1.13239,"m":-0.000531},
{"i":323,"o":1.13257,"h":1.13262,"l":1.13223,"c":1.13247,"m":-0.000503},
{"i":324,"o":1.13257,"h":1.13262,"l":1.13185,"c":1.13196,"m":-0.000488},
{"i":325,"o":1.13196,"h":1.13266,"l":1.13158,"c":1.13264,"m":-0.000416},
{"i":326,"o":1.13268,"h":1.13318,"l":1.13223,"c":1.13276,"m":-0.000359},
{"i":327,"o":1.13274,"h":1.13284,"l":1.13264,"c":1.1328,"m":-0.000302},
{"i":328,"o":1.1328,"h":1.13331,"l":1.13223,"c":1.13311,"m":-0.000215},
{"i":329,"o":1.13311,"h":1.13392,"l":1.13304,"c":1.1337,"m":-0.000129},
{"i":330,"o":1.13366,"h":1.13392,"l":1.13341,"c":1.13341,"m":-0.000101},
{"i":331,"o":1.13341,"h":1.13454,"l":1.13321,"c":1.13392,"m":-0.000043},
{"i":332,"o":1.13392,"h":1.13399,"l":1.13321,"c":1.13325,"m":-0.000043},
{"i":333,"o":1.13345,"h":1.13433,"l":1.13329,"c":1.13344,"m":-0.000043},
{"i":334,"o":1.13342,"h":1.13402,"l":1.13338,"c":1.13356,"m":-0.000043},
{"i":335,"o":1.13365,"h":1.13369,"l":1.13311,"c":1.13311,"m":-0.000072},
{"i":336,"o":1.13315,"h":1.13315,"l":1.13152,"c":1.13243,"m":-0.000129},
{"i":337,"o":1.13243,"h":1.13348,"l":1.13239,"c":1.13345,"m":-0.000129},
{"i":338,"o":1.13348,"h":1.13348,"l":1.13193,"c":1.13257,"m":-0.000187},
{"i":339,"o":1.1326,"h":1.13277,"l":1.13203,"c":1.1325,"m":-0.000215},
{"i":340,"o":1.1325,"h":1.13284,"l":1.13193,"c":1.13196,"m":-0.000273},
{"i":341,"o":1.13193,"h":1.13291,"l":1.13189,"c":1.13257,"m":-0.000273},
{"i":342,"o":1.1325,"h":1.13315,"l":1.13233,"c":1.13264,"m":-0.000273},
{"i":343,"o":1.13253,"h":1.13274,"l":1.13207,"c":1.13234,"m":-0.000302},
{"i":344,"o":1.13234,"h":1.13257,"l":1.13209,"c":1.1323,"m":-0.00033},
{"i":345,"o":1.1323,"h":1.13297,"l":1.13209,"c":1.13226,"m":-0.00033},
{"i":346,"o":1.13227,"h":1.13227,"l":1.13152,"c":1.13171,"m":-0.000388},
{"i":347,"o":1.13171,"h":1.13189,"l":1.13094,"c":1.13175,"m":-0.000416},
{"i":348,"o":1.13173,"h":1.13196,"l":1.13117,"c":1.13124,"m":-0.000445},
{"i":349,"o":1.13124,"h":1.13135,"l":1.13084,"c":1.1309,"m":-0.000488},
{"i":350,"o":1.13087,"h":1.13198,"l":1.13084,"c":1.13173,"m":-0.000416},
{"i":351,"o":1.13173,"h":1.13223,"l":1.13121,"c":1.13196,"m":-0.000388},
{"i":352,"o":1.13196,"h":1.1323,"l":1.13193,"c":1.13216,"m":-0.000359},
{"i":353,"o":1.13212,"h":1.13293,"l":1.13162,"c":1.13239,"m":-0.00033},
{"i":354,"o":1.13234,"h":1.13263,"l":1.13162,"c":1.13261,"m":-0.000302},
{"i":355,"o":1.13259,"h":1.13293,"l":1.13144,"c":1.13152,"m":-0.000359},
{"i":356,"o":1.13152,"h":1.13169,"l":1.1308,"c":1.13107,"m":-0.000416},
{"i":357,"o":1.13138,"h":1.13169,"l":1.1308,"c":1.13101,"m":-0.000445},
{"i":358,"o":1.13138,"h":1.13166,"l":1.13057,"c":1.13057,"m":-0.000488},
{"i":359,"o":1.13053,"h":1.13057,"l":1.13003,"c":1.13019,"m":-0.000531},
{"i":360,"o":1.13022,"h":1.13141,"l":1.13019,"c":1.13138,"m":-0.000445},
{"i":361,"o":1.13135,"h":1.13216,"l":1.13121,"c":1.13169,"m":-0.000359},
{"i":362,"o":1.13162,"h":1.13253,"l":1.13155,"c":1.1318,"m":-0.000302},
{"i":363,"o":1.13178,"h":1.13178,"l":1.13044,"c":1.1311,"m":-0.000302},
{"i":364,"o":1.1311,"h":1.13426,"l":1.1311,"c":1.13295,"m":-0.000101},
{"i":365,"o":1.13295,"h":1.13295,"l":1.13193,"c":1.13196,"m":-0.000072},
{"i":366,"o":1.13209,"h":1.13342,"l":1.13114,"c":1.13243,"m":0.000043},
{"i":367,"o":1.13239,"h":1.13307,"l":1.13236,"c":1.13304,"m":0.000187},
{"i":368,"o":1.13297,"h":1.13372,"l":1.13288,"c":1.13348,"m":0.000302},
{"i":369,"o":1.13342,"h":1.13453,"l":1.13338,"c":1.13447,"m":0.000474},
{"i":370,"o":1.13444,"h":1.13491,"l":1.13375,"c":1.13487,"m":0.000589},
{"i":371,"o":1.1349,"h":1.1349,"l":1.13388,"c":1.13429,"m":0.000617},
{"i":372,"o":1.13433,"h":1.1344,"l":1.13383,"c":1.13429,"m":0.000617},
{"i":373,"o":1.13429,"h":1.13548,"l":1.13406,"c":1.1349,"m":0.000689},
{"i":374,"o":1.13494,"h":1.13497,"l":1.13399,"c":1.13406,"m":0.000661},
{"i":375,"o":1.13403,"h":1.1341,"l":1.13352,"c":1.13358,"m":0.000589},
{"i":376,"o":1.13358,"h":1.13392,"l":1.13338,"c":1.13388,"m":0.00056},
{"i":377,"o":1.13388,"h":1.1342,"l":1.13379,"c":1.13413,"m":0.000589},
{"i":378,"o":1.1341,"h":1.13467,"l":1.1341,"c":1.13447,"m":0.000617},
{"i":379,"o":1.13447,"h":1.1347,"l":1.1341,"c":1.1346,"m":0.000646},
{"i":380,"o":1.13456,"h":1.13532,"l":1.13453,"c":1.13494,"m":0.000675},
{"i":381,"o":1.13494,"h":1.13514,"l":1.13453,"c":1.13478,"m":0.000675},
{"i":382,"o":1.13487,"h":1.13514,"l":1.1344,"c":1.13474,"m":0.000661},
{"i":383,"o":1.13487,"h":1.13491,"l":1.13429,"c":1.13433,"m":0.000617},
{"i":384,"o":1.1344,"h":1.13494,"l":1.13433,"c":1.1349,"m":0.000632},
{"i":385,"o":1.1349,"h":1.13518,"l":1.13481,"c":1.13484,"m":0.000632},
{"i":386,"o":1.13484,"h":1.13521,"l":1.13481,"c":1.13491,"m":0.000617},
{"i":387,"o":1.13487,"h":1.13491,"l":1.1344,"c":1.13447,"m":0.000589},
{"i":388,"o":1.13447,"h":1.13528,"l":1.13424,"c":1.13494,"m":0.000589},
{"i":389,"o":1.13504,"h":1.13504,"l":1.1344,"c":1.13474,"m":0.00056},
{"i":390,"o":1.1347,"h":1.13474,"l":1.1344,"c":1.13447,"m":0.000517},
{"i":391,"o":1.13447,"h":1.13447,"l":1.13429,"c":1.13437,"m":0.000474},
{"i":392,"o":1.1344,"h":1.13464,"l":1.13436,"c":1.1346,"m":0.000445},
{"i":393,"o":1.1346,"h":1.13464,"l":1.13433,"c":1.13456,"m":0.000416},
{"i":394,"o":1.1346,"h":1.13464,"l":1.13437,"c":1.1344,"m":0.000373},
{"i":395,"o":1.1344,"h":1.13456,"l":1.13437,"c":1.1345,"m":0.000345},
{"i":396,"o":1.1345,"h":1.1345,"l":1.1341,"c":1.13413,"m":0.000302},
{"i":397,"o":1.1342,"h":1.13447,"l":1.13413,"c":1.1344,"m":0.000273},
{"i":398,"o":1.1344,"h":1.13443,"l":1.1341,"c":1.13413,"m":0.00023},
{"i":399,"o":1.13413,"h":1.13416,"l":1.13383,"c":1.1341,"m":0.000187},
{"i":400,"o":1.13406,"h":1.13433,"l":1.13375,"c":1.1342,"m":0.000158},
{"i":401,"o":1.13417,"h":1.1342,"l":1.13345,"c":1.13413,"m":0.000129},
{"i":402,"o":1.13413,"h":1.13426,"l":1.13386,"c":1.13393,"m":0.000101},
{"i":403,"o":1.13393,"h":1.1344,"l":1.13379,"c":1.13433,"m":0.000086},
{"i":404,"o":1.1343,"h":1.1346,"l":1.13426,"c":1.13447,"m":0.000086},
{"i":405,"o":1.13447,"h":1.13542,"l":1.13447,"c":1.13481,"m":0.000101},
{"i":406,"o":1.13481,"h":1.13768,"l":1.13426,"c":1.13673,"m":0.000373},
{"i":407,"o":1.13673,"h":1.13728,"l":1.13627,"c":1.13681,"m":0.000517},
{"i":408,"o":1.13677,"h":1.13804,"l":1.13677,"c":1.13793,"m":0.000689},
{"i":409,"o":1.13786,"h":1.13823,"l":1.13779,"c":1.13804,"m":0.000804},
{"i":410,"o":1.13804,"h":1.13804,"l":1.13725,"c":1.13745,"m":0.000847},
{"i":411,"o":1.13748,"h":1.13772,"l":1.13738,"c":1.13748,"m":0.000876},
{"i":412,"o":1.13749,"h":1.1379,"l":1.13731,"c":1.13746,"m":0.00089},
{"i":413,"o":1.13748,"h":1.1375,"l":1.13698,"c":1.13718,"m":0.00089},
{"i":414,"o":1.13718,"h":1.13722,"l":1.13668,"c":1.13684,"m":0.000876},
{"i":415,"o":1.13687,"h":1.13904,"l":1.13684,"c":1.13864,"m":0.00102},
{"i":416,"o":1.13864,"h":1.13874,"l":1.13804,"c":1.13806,"m":0.00102},
{"i":417,"o":1.13811,"h":1.1384,"l":1.13766,"c":1.13813,"m":0.001005},
{"i":418,"o":1.13806,"h":1.13871,"l":1.13804,"c":1.13867,"m":0.00102},
{"i":419,"o":1.13867,"h":1.13877,"l":1.13804,"c":1.1382,"m":0.00102},
{"i":420,"o":1.13825,"h":1.13872,"l":1.13805,"c":1.13857,"m":0.001001}
]},
"vconcat": [
{
"width": 1872, "height": 627,
"layer": [
{"data": {"name": "days"}, "mark": {"type": "rule", "color": "black", "strokeDash": [3, 3], "strokeWidth": 1},
 "encoding": {"x": {"field": "i", "type": "quantitative", "scale": {"domain": [-0.25, 467.75], "nice": false, "zero": false}, "axis": null}}},
{"data": {"name": "fib"}, "mark": {"type": "rule", "color": "#7a7a7a", "strokeDash": [3, 2], "strokeWidth": 1},
 "encoding": {"y": {"field": "p", "type": "quantitative", "scale": {"domain": [1.129339, 1.154858], "nice": false, "zero": false},
   "axis": {"orient": "right", "title": null, "values": [1.1295, 1.13085, 1.1322, 1.13355, 1.1349, 1.13625, 1.1376, 1.13895, 1.1403, 1.14165, 1.143, 1.14435, 1.1457, 1.14705, 1.1484, 1.14975, 1.1511, 1.15245, 1.1538], "format": ".5f", "tickSize": 3, "labelPadding": 2, "labelOverlap": false, "labelFlush": false}}}},
{"data": {"name": "fib"}, "mark": {"type": "text", "align": "right", "baseline": "bottom", "dx": -3, "dy": -1, "color": "#8a8a8a", "fontSize": 10, "font": "Liberation Sans"},
 "encoding": {"x": {"datum": 467.75, "type": "quantitative", "scale": {"domain": [-0.25, 467.75], "nice": false, "zero": false}, "axis": null},
  "y": {"field": "p", "type": "quantitative", "scale": {"domain": [1.129339, 1.154858], "nice": false, "zero": false},
   "axis": {"orient": "right", "title": null, "values": [1.1295, 1.13085, 1.1322, 1.13355, 1.1349, 1.13625, 1.1376, 1.13895, 1.1403, 1.14165, 1.143, 1.14435, 1.1457, 1.14705, 1.1484, 1.14975, 1.1511, 1.15245, 1.1538], "format": ".5f", "tickSize": 3, "labelPadding": 2, "labelOverlap": false, "labelFlush": false}},
  "text": {"field": "label"}}},
{"data": {"name": "bid"}, "mark": {"type": "rule", "color": "#c0c0c0", "strokeWidth": 1},
 "encoding": {"y": {"field": "p", "type": "quantitative", "scale": {"domain": [1.129339, 1.154858], "nice": false, "zero": false},
   "axis": {"orient": "right", "title": null, "values": [1.1295, 1.13085, 1.1322, 1.13355, 1.1349, 1.13625, 1.1376, 1.13895, 1.1403, 1.14165, 1.143, 1.14435, 1.1457, 1.14705, 1.1484, 1.14975, 1.1511, 1.15245, 1.1538], "format": ".5f", "tickSize": 3, "labelPadding": 2, "labelOverlap": false, "labelFlush": false}}}},
{"data": {"name": "trend"}, "mark": {"type": "line", "color": "#ff0000", "strokeDash": [3, 3], "strokeWidth": 1},
 "encoding": {"x": {"field": "i", "type": "quantitative", "scale": {"domain": [-0.25, 467.75], "nice": false, "zero": false}, "axis": null},
  "y": {"field": "p", "type": "quantitative", "scale": {"domain": [1.129339, 1.154858], "nice": false, "zero": false},
   "axis": {"orient": "right", "title": null, "values": [1.1295, 1.13085, 1.1322, 1.13355, 1.1349, 1.13625, 1.1376, 1.13895, 1.1403, 1.14165, 1.143, 1.14435, 1.1457, 1.14705, 1.1484, 1.14975, 1.1511, 1.15245, 1.1538], "format": ".5f", "tickSize": 3, "labelPadding": 2, "labelOverlap": false, "labelFlush": false}}}},
{"data": {"name": "bars"}, "mark": {"type": "rule", "color": "black", "strokeWidth": 1},
 "encoding": {"x": {"field": "i", "type": "quantitative", "scale": {"domain": [-0.25, 467.75], "nice": false, "zero": false}, "axis": null},
  "y": {"field": "l", "type": "quantitative", "scale": {"domain": [1.129339, 1.154858], "nice": false, "zero": false},
   "axis": {"orient": "right", "title": null, "values": [1.1295, 1.13085, 1.1322, 1.13355, 1.1349, 1.13625, 1.1376, 1.13895, 1.1403, 1.14165, 1.143, 1.14435, 1.1457, 1.14705, 1.1484, 1.14975, 1.1511, 1.15245, 1.1538], "format": ".5f", "tickSize": 3, "labelPadding": 2, "labelOverlap": false, "labelFlush": false}},
  "y2": {"field": "h"}}},
{"data": {"name": "bars"}, "mark": {"type": "bar", "size": 3, "stroke": "black", "strokeWidth": 1},
 "encoding": {"x": {"field": "i", "type": "quantitative", "scale": {"domain": [-0.25, 467.75], "nice": false, "zero": false}, "axis": null},
  "y": {"field": "o", "type": "quantitative", "scale": {"domain": [1.129339, 1.154858], "nice": false, "zero": false},
   "axis": {"orient": "right", "title": null, "values": [1.1295, 1.13085, 1.1322, 1.13355, 1.1349, 1.13625, 1.1376, 1.13895, 1.1403, 1.14165, 1.143, 1.14435, 1.1457, 1.14705, 1.1484, 1.14975, 1.1511, 1.15245, 1.1538], "format": ".5f", "tickSize": 3, "labelPadding": 2, "labelOverlap": false, "labelFlush": false}},
  "y2": {"field": "c"},
  "fill": {"condition": {"test": "datum.c >= datum.o", "value": "#2a7050"}, "value": "#c01d43"}}},
{"data": {"values": [{"t": "EURUSD,M15  1.13825 1.13872 1.13805 1.13857"}]}, "mark": {"type": "text", "align": "left", "baseline": "middle", "fontSize": 10, "font": "Liberation Sans", "color": "black"},
 "encoding": {"x": {"datum": 3.75, "type": "quantitative", "scale": {"domain": [-0.25, 467.75], "nice": false, "zero": false}, "axis": null},
  "y": {"datum": 1.1545, "type": "quantitative", "scale": {"domain": [1.129339, 1.154858], "nice": false, "zero": false},
   "axis": {"orient": "right", "title": null, "values": [1.1295, 1.13085, 1.1322, 1.13355, 1.1349, 1.13625, 1.1376, 1.13895, 1.1403, 1.14165, 1.143, 1.14435, 1.1457, 1.14705, 1.1484, 1.14975, 1.1511, 1.15245, 1.1538], "format": ".5f", "tickSize": 3, "labelPadding": 2, "labelOverlap": false, "labelFlush": false}},
  "text": {"field": "t"}}},
{"data": {"values": [{"t": "menu"}]}, "mark": {"type": "point", "shape": "triangle-down", "size": 22, "filled": true, "color": "black", "opacity": 1},
 "encoding": {"x": {"datum": 1.6, "type": "quantitative", "scale": {"domain": [-0.25, 467.75], "nice": false, "zero": false}, "axis": null},
  "y": {"datum": 1.1545, "type": "quantitative", "scale": {"domain": [1.129339, 1.154858], "nice": false, "zero": false},
   "axis": {"orient": "right", "title": null, "values": [1.1295, 1.13085, 1.1322, 1.13355, 1.1349, 1.13625, 1.1376, 1.13895, 1.1403, 1.14165, 1.143, 1.14435, 1.1457, 1.14705, 1.1484, 1.14975, 1.1511, 1.15245, 1.1538], "format": ".5f", "tickSize": 3, "labelPadding": 2, "labelOverlap": false, "labelFlush": false}}}},
{"data": {"name": "bid"}, "mark": {"type": "bar", "orient": "horizontal", "size": 13, "color": "black", "clip": false},
 "encoding": {"x": {"datum": 468.1, "type": "quantitative", "scale": {"domain": [-0.25, 467.75], "nice": false, "zero": false}, "axis": null},
  "x2": {"datum": 478},
  "y": {"field": "p", "type": "quantitative", "scale": {"domain": [1.129339, 1.154858], "nice": false, "zero": false},
   "axis": {"orient": "right", "title": null, "values": [1.1295, 1.13085, 1.1322, 1.13355, 1.1349, 1.13625, 1.1376, 1.13895, 1.1403, 1.14165, 1.143, 1.14435, 1.1457, 1.14705, 1.1484, 1.14975, 1.1511, 1.15245, 1.1538], "format": ".5f", "tickSize": 3, "labelPadding": 2, "labelOverlap": false, "labelFlush": false}}}},
{"data": {"name": "bid"}, "mark": {"type": "text", "align": "left", "baseline": "middle", "dx": 3, "fontSize": 10, "font": "Liberation Sans", "color": "white", "clip": false},
 "encoding": {"x": {"datum": 468.1, "type": "quantitative", "scale": {"domain": [-0.25, 467.75], "nice": false, "zero": false}, "axis": null},
  "y": {"field": "p", "type": "quantitative", "scale": {"domain": [1.129339, 1.154858], "nice": false, "zero": false},
   "axis": {"orient": "right", "title": null, "values": [1.1295, 1.13085, 1.1322, 1.13355, 1.1349, 1.13625, 1.1376, 1.13895, 1.1403, 1.14165, 1.143, 1.14435, 1.1457, 1.14705, 1.1484, 1.14975, 1.1511, 1.15245, 1.1538], "format": ".5f", "tickSize": 3, "labelPadding": 2, "labelOverlap": false, "labelFlush": false}},
  "text": {"field": "label"}}}
]
},
{
"width": 1872, "height": 310,
"layer": [
{"data": {"name": "days"}, "mark": {"type": "rule", "color": "black", "strokeDash": [3, 3], "strokeWidth": 1},
 "encoding": {"x": {"field": "i", "type": "quantitative", "scale": {"domain": [-0.25, 467.75], "nice": false, "zero": false},
   "axis": {"orient": "bottom", "title": null, "values": [0,16,32,48,64,80,96,112,128,144,160,176,192,208,224,240,256,272,288,304,320,336,352,368,384,400,416],
    "labelExpr": "['9 Aug 2018','10 Aug 03:00','10 Aug 07:00','10 Aug 11:00','10 Aug 15:00','10 Aug 19:00','10 Aug 23:00','13 Aug 03:00','13 Aug 07:00','13 Aug 11:00','13 Aug 15:00','13 Aug 19:00','13 Aug 23:00','14 Aug 03:00','14 Aug 07:00','14 Aug 11:00','14 Aug 15:00','14 Aug 19:00','14 Aug 23:00','15 Aug 03:00','15 Aug 07:00','15 Aug 11:00','15 Aug 15:00','15 Aug 19:00','15 Aug 23:00','16 Aug 03:00','16 Aug 07:00'][round(datum.value/16)]",
    "labelAlign": "left", "labelBaseline": "top", "labelPadding": 1, "tickSize": 4, "labelOverlap": false, "labelFlush": false, "labelBound": false}}}},
{"data": {"name": "bars"}, "mark": {"type": "bar", "size": 5, "color": "black"},
 "encoding": {"x": {"field": "i", "type": "quantitative", "scale": {"domain": [-0.25, 467.75], "nice": false, "zero": false},
   "axis": {"orient": "bottom", "title": null, "values": [0,16,32,48,64,80,96,112,128,144,160,176,192,208,224,240,256,272,288,304,320,336,352,368,384,400,416],
    "labelExpr": "['9 Aug 2018','10 Aug 03:00','10 Aug 07:00','10 Aug 11:00','10 Aug 15:00','10 Aug 19:00','10 Aug 23:00','13 Aug 03:00','13 Aug 07:00','13 Aug 11:00','13 Aug 15:00','13 Aug 19:00','13 Aug 23:00','14 Aug 03:00','14 Aug 07:00','14 Aug 11:00','14 Aug 15:00','14 Aug 19:00','14 Aug 23:00','15 Aug 03:00','15 Aug 07:00','15 Aug 11:00','15 Aug 15:00','15 Aug 19:00','15 Aug 23:00','16 Aug 03:00','16 Aug 07:00'][round(datum.value/16)]",
    "labelAlign": "left", "labelBaseline": "top", "labelPadding": 1, "tickSize": 4, "labelOverlap": false, "labelFlush": false, "labelBound": false}},
  "y": {"field": "m", "type": "quantitative", "scale": {"domain": [-0.002264, 0.001323], "nice": false, "zero": false},
   "axis": {"orient": "right", "title": null, "values": [-0.002264, 0, 0.001323], "labelExpr": "datum.value == 0 ? '0.00' : format(datum.value, '.6f')", "labelFlush": true, "labelFontSize": 9, "tickSize": 3, "labelPadding": 2, "labelOverlap": false}},
  "y2": {"datum": 0}}},
{"data": {"name": "sig"}, "mark": {"type": "line", "color": "#ff0000", "strokeWidth": 1.6, "interpolate": "monotone"},
 "encoding": {"x": {"field": "i", "type": "quantitative", "scale": {"domain": [-0.25, 467.75], "nice": false, "zero": false},
   "axis": {"orient": "bottom", "title": null, "values": [0,16,32,48,64,80,96,112,128,144,160,176,192,208,224,240,256,272,288,304,320,336,352,368,384,400,416],
    "labelExpr": "['9 Aug 2018','10 Aug 03:00','10 Aug 07:00','10 Aug 11:00','10 Aug 15:00','10 Aug 19:00','10 Aug 23:00','13 Aug 03:00','13 Aug 07:00','13 Aug 11:00','13 Aug 15:00','13 Aug 19:00','13 Aug 23:00','14 Aug 03:00','14 Aug 07:00','14 Aug 11:00','14 Aug 15:00','14 Aug 19:00','14 Aug 23:00','15 Aug 03:00','15 Aug 07:00','15 Aug 11:00','15 Aug 15:00','15 Aug 19:00','15 Aug 23:00','16 Aug 03:00','16 Aug 07:00'][round(datum.value/16)]",
    "labelAlign": "left", "labelBaseline": "top", "labelPadding": 1, "tickSize": 4, "labelOverlap": false, "labelFlush": false, "labelBound": false}},
  "y": {"field": "s", "type": "quantitative", "scale": {"domain": [-0.002264, 0.001323], "nice": false, "zero": false},
   "axis": {"orient": "right", "title": null, "values": [-0.002264, 0, 0.001323], "labelExpr": "datum.value == 0 ? '0.00' : format(datum.value, '.6f')", "labelFlush": true, "labelFontSize": 9, "tickSize": 3, "labelPadding": 2, "labelOverlap": false}}}},
{"data": {"values": [{"t": "MACD(12,26,9) 0.001001 0.000954"}]}, "mark": {"type": "text", "align": "left", "baseline": "middle", "fontSize": 10, "font": "Liberation Sans", "color": "black"},
 "encoding": {"x": {"datum": 0.2, "type": "quantitative", "scale": {"domain": [-0.25, 467.75], "nice": false, "zero": false},
   "axis": {"orient": "bottom", "title": null, "values": [0,16,32,48,64,80,96,112,128,144,160,176,192,208,224,240,256,272,288,304,320,336,352,368,384,400,416],
    "labelExpr": "['9 Aug 2018','10 Aug 03:00','10 Aug 07:00','10 Aug 11:00','10 Aug 15:00','10 Aug 19:00','10 Aug 23:00','13 Aug 03:00','13 Aug 07:00','13 Aug 11:00','13 Aug 15:00','13 Aug 19:00','13 Aug 23:00','14 Aug 03:00','14 Aug 07:00','14 Aug 11:00','14 Aug 15:00','14 Aug 19:00','14 Aug 23:00','15 Aug 03:00','15 Aug 07:00','15 Aug 11:00','15 Aug 15:00','15 Aug 19:00','15 Aug 23:00','16 Aug 03:00','16 Aug 07:00'][round(datum.value/16)]",
    "labelAlign": "left", "labelBaseline": "top", "labelPadding": 1, "tickSize": 4, "labelOverlap": false, "labelFlush": false, "labelBound": false}},
  "y": {"datum": 0.00122, "type": "quantitative", "scale": {"domain": [-0.002264, 0.001323], "nice": false, "zero": false},
   "axis": {"orient": "right", "title": null, "values": [-0.002264, 0, 0.001323], "labelExpr": "datum.value == 0 ? '0.00' : format(datum.value, '.6f')", "labelFlush": true, "labelFontSize": 9, "tickSize": 3, "labelPadding": 2, "labelOverlap": false}},
  "text": {"field": "t"}}}
]
}
]
}
